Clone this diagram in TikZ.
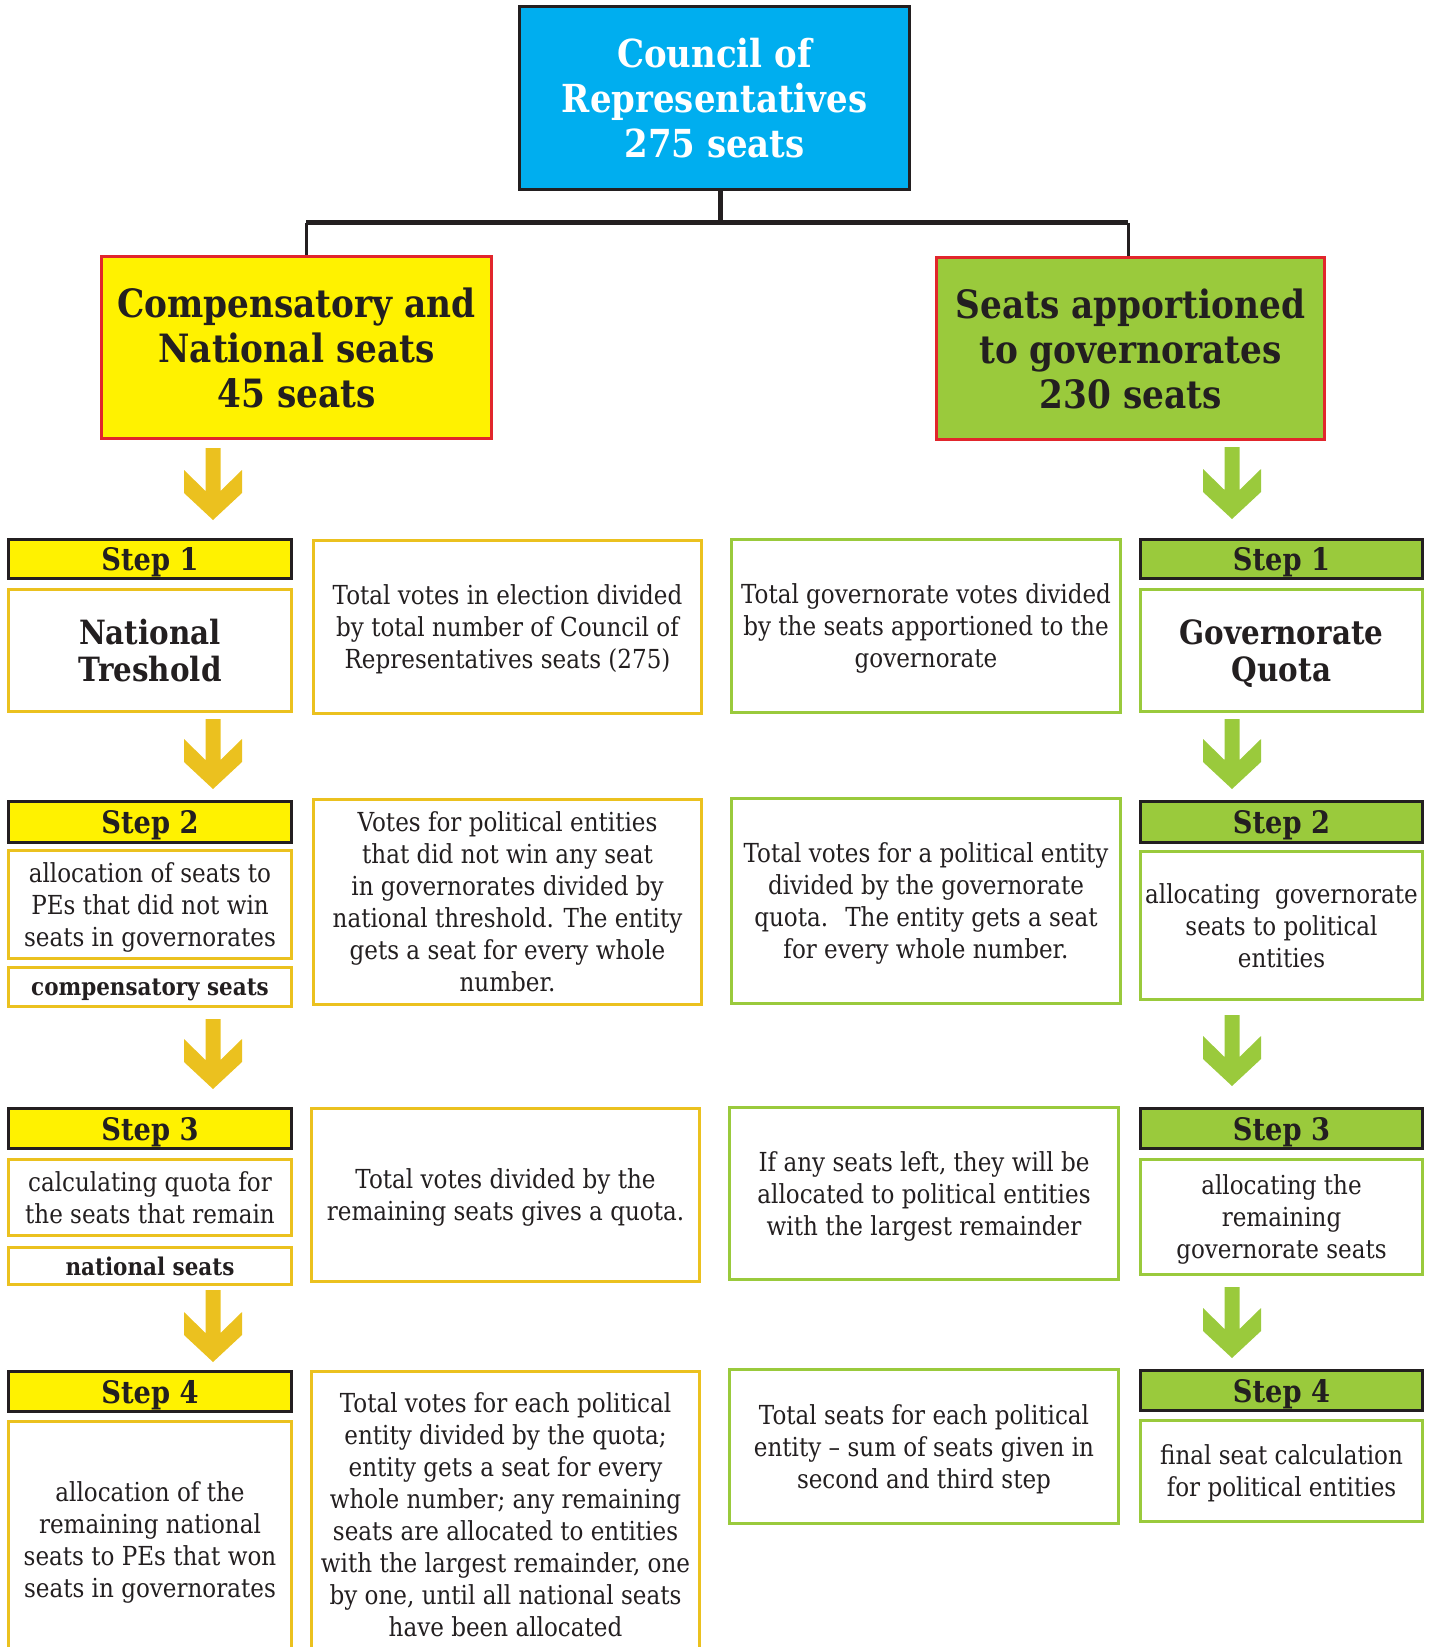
\documentclass[tikz,border=0pt]{standalone}
\usepackage{fontspec}
\setmainfont{DejaVu Serif}[FakeStretch=0.88]
\usetikzlibrary{calc}
\definecolor{ink}{HTML}{231F20}
\definecolor{councilblue}{HTML}{00AEEF}
\definecolor{stepyellow}{HTML}{FFF200}
\definecolor{gold}{HTML}{EBC11F}
\definecolor{leafgreen}{HTML}{9ACA3C}
\definecolor{borderred}{HTML}{E1262C}

% chevron arrow: colour, top coordinate, tip coordinate
\newcommand{\stepdrop}[3]{%
  \fill[#1] ($(#2)+(-7.5,0)$) -- ($(#2)+(7.5,0)$) -- ($(#3)+(7.5,-29)$)
    -- ($(#3)+(29,-50)$) -- ($(#3)+(29,-27)$) -- (#3) -- ($(#3)+(-29,-27)$)
    -- ($(#3)+(-29,-50)$) -- ($(#3)+(-7.5,-29)$) -- cycle;}

\begin{document}
\begin{tikzpicture}[x=0.5pt, y=-0.5pt,
    every node/.style={inner sep=0pt, align=center, text=ink},
    wh/.style 2 args={minimum width=#1*0.5pt, minimum height=#2*0.5pt},
    title/.style={draw=ink, line width=1.5pt, fill=councilblue, text=white, font=\bfseries\fontsize{19.3}{22.5}\selectfont},
    branch/.style={draw=borderred, line width=1.3pt, font=\bfseries\fontsize{19.5}{22.5}\selectfont},
    stepbox/.style={draw=ink, line width=1.5pt, text depth=0pt, font=\bfseries\fontsize{15.5}{18}\selectfont},
    descbox/.style={line width=1.5pt, text depth=0pt, font=\fontsize{13.1}{16}\selectfont},
    namebox/.style={descbox, font=\bfseries\fontsize{16.7}{18.5}\selectfont},
    tagbox/.style={descbox, font=\bfseries\fontsize{12.2}{15}\selectfont},
    trunk/.style={draw=ink, line width=2.5pt},
    twig/.style={draw=ink, line width=1.5pt}]
  \useasboundingbox (0,0) rectangle (1432,1647);

  % top of the tree
  \node[title, wh={390}{183}] (council) at (714.5,98) {Council of\\Representatives\\275 seats};
  \node[branch, fill=stepyellow, wh={390}{182}] (natl) at (296.5,347.5) {Compensatory and\\National seats\\45 seats};
  \node[branch, fill=leafgreen, wh={388}{182}] (gov) at (1130.5,348.5) {Seats apportioned\\to governorates\\230 seats};

  \coordinate (stem) at (720,223);
  \coordinate (busL) at (306,223);
  \coordinate (busR) at (1128,223);
  \draw[trunk] (stem |- council.south) -- (stem);
  \draw[trunk] (busL) -- (busR);
  \draw[twig] (busL) -- (busL |- natl.north);
  \draw[twig] (busR) -- (busR |- gov.north);

  % national side
  \node[stepbox, fill=stepyellow, wh={283}{39}] (s1L) at (150,559) {Step 1};
  \node[namebox, draw=gold, wh={283}{122}] (d1L) at (150,650.5) {National\\Treshold};
  \node[stepbox, fill=stepyellow, wh={283}{41}] (s2L) at (150,822) {Step 2};
  \node[descbox, draw=gold, wh={283}{108}] (d2L) at (150,904.5) {allocation of seats to\\PEs that did not win\\seats in governorates};
  \node[tagbox, draw=gold, wh={283}{39}] (x2L) at (150,987) {compensatory seats};
  \node[stepbox, fill=stepyellow, wh={283}{40}] (s3L) at (150,1128.5) {Step 3};
  \node[descbox, draw=gold, wh={283}{76}] (d3L) at (150,1197.5) {calculating quota for\\the seats that remain};
  \node[tagbox, draw=gold, wh={283}{37}] (x3L) at (150,1266) {national seats};
  \node[stepbox, fill=stepyellow, wh={283}{40}] (s4L) at (150,1391.5) {Step 4};
  \node[descbox, draw=gold, wh={283}{237}] (d4L) at (150,1540) {allocation of the\\remaining national\\seats to PEs that won\\seats in governorates};

  \node[descbox, draw=gold, wh={388}{173}] (m1L) at (507.5,627) {Total votes in election divided\\by total number of Council of\\Representatives seats (275)};
  \node[descbox, draw=gold, wh={388}{205}] (m2L) at (507.5,902) {Votes for political entities\\that did not win any seat\\in governorates divided by\\national threshold. The entity\\gets a seat for every whole\\number.};
  \node[descbox, draw=gold, wh={388}{173}] (m3L) at (505.5,1195) {Total votes divided by the\\remaining seats gives a quota.};
  \node[descbox, draw=gold, wh={388}{287}] (m4L) at (505.5,1515) {Total votes for each political\\entity divided by the quota;\\entity gets a seat for every\\whole number; any remaining\\seats are allocated to entities\\with the largest remainder, one\\by one, until all national seats\\have been allocated};

  % governorate side
  \node[descbox, draw=leafgreen, wh={389}{173}] (m1R) at (926,626) {Total governorate votes divided\\by the seats apportioned to the\\governorate};
  \node[descbox, draw=leafgreen, wh={389}{205}] (m2R) at (926,901) {Total votes for a political entity\\divided by the governorate\\quota.~ The entity gets a seat\\for every whole number.};
  \node[descbox, draw=leafgreen, wh={389}{172}] (m3R) at (924,1193.5) {If any seats left, they will be\\allocated to political entities\\with the largest remainder};
  \node[descbox, draw=leafgreen, wh={389}{154}] (m4R) at (924,1446.5) {Total seats for each political\\entity -- sum of seats given in\\second and third step};

  \node[stepbox, fill=leafgreen, wh={282}{39}] (s1R) at (1281.5,559) {Step 1};
  \node[namebox, draw=leafgreen, wh={282}{122}] (d1R) at (1281.5,650.5) {Governorate\\Quota};
  \node[stepbox, fill=leafgreen, wh={282}{41}] (s2R) at (1281.5,822) {Step 2};
  \node[descbox, draw=leafgreen, wh={282}{148}] (d2R) at (1281.5,925.5) {allocating~ governorate\\seats to political\\entities};
  \node[stepbox, fill=leafgreen, wh={282}{40}] (s3R) at (1281.5,1128.5) {Step 3};
  \node[descbox, draw=leafgreen, wh={282}{115}] (d3R) at (1281.5,1217) {allocating the\\remaining\\governorate seats};
  \node[stepbox, fill=leafgreen, wh={282}{40}] (s4R) at (1281.5,1390.5) {Step 4};
  \node[descbox, draw=leafgreen, wh={282}{101}] (d4R) at (1281.5,1471) {final seat calculation\\for political entities};

  % arrows
  \coordinate (a1L) at (213,448);  \coordinate (t1L) at (213,520);
  \coordinate (a2L) at (213,719);  \coordinate (t2L) at (213,789);
  \coordinate (a3L) at (213,1019); \coordinate (t3L) at (213,1089);
  \coordinate (a4L) at (213,1290); \coordinate (t4L) at (213,1362);
  \coordinate (a1R) at (1232,447);  \coordinate (t1R) at (1232,519);
  \coordinate (a2R) at (1232,719);  \coordinate (t2R) at (1232,789);
  \coordinate (a3R) at (1232,1015); \coordinate (t3R) at (1232,1086);
  \coordinate (a4R) at (1232,1287); \coordinate (t4R) at (1232,1358);
  \foreach \i in {1,...,4} {
    \stepdrop{gold}{a\i L}{t\i L}
    \stepdrop{leafgreen}{a\i R}{t\i R}
  }
\end{tikzpicture}
\end{document}
